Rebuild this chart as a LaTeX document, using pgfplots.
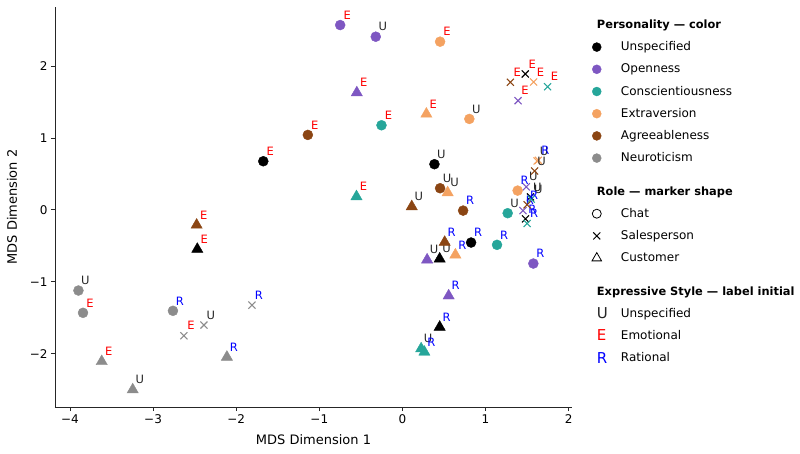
\documentclass[border=0pt]{standalone}
\usepackage{fontspec}
\setmainfont{DejaVu Sans}
\usepackage{pgfplots}
\pgfplotsset{compat=1.18}
\definecolor{cK}{HTML}{000000}
\definecolor{cP}{HTML}{7E57C2}
\definecolor{cT}{HTML}{26A69A}
\definecolor{cO}{HTML}{F4A261}
\definecolor{cB}{HTML}{8B4513}
\definecolor{cG}{HTML}{8C8C8C}
\definecolor{lU}{HTML}{262626}
\definecolor{lE}{HTML}{FF0000}
\definecolor{lR}{HTML}{0000FF}
\newcommand\lblU{\textcolor{lU}{U}}
\newcommand\lblE{\textcolor{lE}{E}}
\newcommand\lblR{\textcolor{lR}{R}}
\newcommand\mylbl[1]{\csname lbl#1\endcsname}
\newcommand\hdr[1]{\hspace*{-24pt}{\fontsize{11.4}{13}\selectfont\bfseries #1}}
\pgfplotsset{
  circ/.style={only marks, mark=*, mark size=5pt, color=#1},
  tri/.style={only marks, mark=triangle*, mark size=6.5pt, color=#1},
  crs/.style={only marks, mark=x, mark size=5pt, color=#1, mark options={line width=1.1pt}},
  legmark/.style={legend image code/.code={\draw[##1] plot coordinates {(0pt,0pt)};}},
  legletter/.style 2 args={legend image code/.code={\node[inner sep=0pt, text height=10pt, text depth=0pt, font=\fontsize{15}{17}\selectfont, text=#1] at (0pt,0pt) {#2};}},
}
\begin{document}
\begin{tikzpicture}
\path[use as bounding box] (-55pt,-46pt) rectangle (745pt,407pt);
\begin{axis}[
  scale only axis, width=517pt, height=400pt,
  xmin=-4.18, xmax=2.04, ymin=-2.74, ymax=2.82,
  axis lines=left, axis line style={-, line width=0.8pt, black!85},
  tick align=outside, major tick length=4pt, tick style={line width=0.8pt, black!85},
  xtick={-4,-3,-2,-1,0,1,2}, xticklabels={−4,−3,−2,−1,0,1,2},
  ytick={-2,-1,0,1,2}, yticklabels={−2,−1,0,1,2},
  ticklabel style={font=\fontsize{12}{14}\selectfont},
  xlabel={MDS Dimension 1}, ylabel={MDS Dimension 2},
  label style={font=\fontsize{13}{15}\selectfont},
  xlabel style={at={(axis description cs:0.5,-0.0825)}, anchor=center},
  ylabel style={at={(axis description cs:-0.0832,0.5)}, anchor=center},
  point meta=explicit symbolic,
  nodes near coords={\mylbl{\pgfplotspointmeta}},
  every node near coord/.append style={anchor=center, xshift=7pt, yshift=10pt, font=\fontsize{11.5}{13}\selectfont, inner sep=0pt},
  clip=false,
  legend cell align=left,
  legend style={at={(axis description cs:1.0325,0.977)}, anchor=north west, draw=none, fill=none,
    font=\fontsize{12}{14}\selectfont, row sep=9.2pt, column sep=13pt,
    nodes={inner sep=0pt, text height=10pt, text depth=3pt}},
]
% data series (no legend)
\addplot[circ=cK, forget plot] coordinates {(-1.674,0.676)[E] (0.385,0.635)[U] (0.826,-0.454)[R]};
\addplot[tri=cK, forget plot] coordinates {(-2.468,-0.546)[E] (0.448,-0.681)[U] (0.448,-1.629)[R]};
\addplot[crs=cK, forget plot] coordinates {(1.478,1.889)[E] (1.54,0.18)[U] (1.48,-0.125)[R]};
\addplot[circ=cP, forget plot] coordinates {(-0.749,2.569)[E] (-0.321,2.407)[U] (1.575,-0.746)[R]};
\addplot[tri=cP, forget plot] coordinates {(-0.549,1.629)[E] (0.297,-0.694)[U] (0.556,-1.194)[R]};
\addplot[crs=cP, forget plot] coordinates {(1.391,1.518)[E] (1.49,0.32)[U] (1.45,-0.01)[R]};
\addplot[circ=cT, forget plot] coordinates {(-0.252,1.176)[E] (1.266,-0.046)[U] (1.138,-0.486)[R]};
\addplot[tri=cT, forget plot] coordinates {(-0.553,0.185)[E] (0.225,-1.93)[U] (0.264,-1.976)[R]};
\addplot[crs=cT, forget plot] coordinates {(1.746,1.712)[E] (1.55,0.15)[U] (1.50,-0.19)[R]};
\addplot[circ=cO, forget plot] coordinates {(0.453,2.338)[E] (0.805,1.264)[U] (1.386,0.268)[R]};
\addplot[tri=cO, forget plot] coordinates {(0.288,1.333)[E] (0.544,0.240)[U] (0.637,-0.625)[R]};
\addplot[crs=cO, forget plot] coordinates {(1.578,1.778)[E] (1.62,0.68)[U] (1.635,0.69)[R]};
\addplot[circ=cB, forget plot] coordinates {(-1.138,1.042)[E] (0.453,0.301)[U] (0.730,-0.01)[R]};
\addplot[tri=cB, forget plot] coordinates {(-2.476,-0.21)[E] (0.112,0.046)[U] (0.508,-0.449)[R]};
\addplot[crs=cB, forget plot] coordinates {(1.298,1.774)[E] (1.59,0.54)[U] (1.50,0.07)[R]};
\addplot[circ=cG, forget plot] coordinates {(-3.843,-1.431)[E] (-3.898,-1.121)[U] (-2.761,-1.403)[R]};
\addplot[tri=cG, forget plot] coordinates {(-3.618,-2.107)[E] (-3.245,-2.5)[U] (-2.112,-2.046)[R]};
\addplot[crs=cG, forget plot] coordinates {(-2.629,-1.75)[E] (-2.388,-1.601)[U] (-1.811,-1.324)[R]};
% legend
\addlegendimage{empty legend}\addlegendentry{\hdr{Personality — color}}
\addlegendimage{legmark, only marks, mark=*, mark size=4.5pt, color=cK}\addlegendentry{Unspecified}
\addlegendimage{legmark, only marks, mark=*, mark size=4.5pt, color=cP}\addlegendentry{Openness}
\addlegendimage{legmark, only marks, mark=*, mark size=4.5pt, color=cT}\addlegendentry{Conscientiousness}
\addlegendimage{legmark, only marks, mark=*, mark size=4.5pt, color=cO}\addlegendentry{Extraversion}
\addlegendimage{legmark, only marks, mark=*, mark size=4.5pt, color=cB}\addlegendentry{Agreeableness}
\addlegendimage{legmark, only marks, mark=*, mark size=4.5pt, color=cG}\addlegendentry{Neuroticism}
\addlegendimage{empty legend}\addlegendentry[text height=2pt, text depth=0pt]{}
\addlegendimage{empty legend}\addlegendentry{\hdr{Role — marker shape}}
\addlegendimage{legmark, only marks, mark=o, mark size=4.5pt, color=black, mark options={line width=0.8pt}}\addlegendentry{Chat}
\addlegendimage{legmark, only marks, mark=x, mark size=5pt, color=black, mark options={line width=0.9pt}}\addlegendentry{Salesperson}
\addlegendimage{legmark, only marks, mark=triangle, mark size=5.5pt, color=black, mark options={line width=0.8pt}}\addlegendentry{Customer}
\addlegendimage{empty legend}\addlegendentry[text height=2pt, text depth=0pt]{}
\addlegendimage{empty legend}\addlegendentry{\hdr{Expressive Style — label initial}}
\addlegendimage{legletter={lU}{U}}\addlegendentry{Unspecified}
\addlegendimage{legletter={lE}{E}}\addlegendentry{Emotional}
\addlegendimage{legletter={lR}{R}}\addlegendentry{Rational}
\end{axis}
\end{tikzpicture}
\end{document}
